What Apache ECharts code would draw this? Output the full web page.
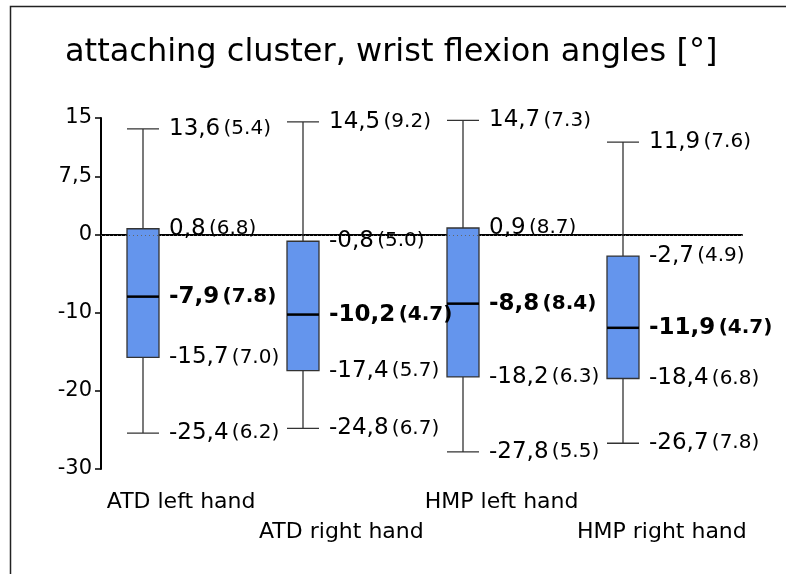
<!DOCTYPE html>
<html lang="en">

<head>
    <meta charset="UTF-8">
    <title>attaching cluster, wrist flexion angles</title>
    <script src="https://cdn.jsdelivr.net/npm/echarts/dist/echarts.min.js"></script>
    <style>
        body { margin: 0; background: #fff; }
    </style>
</head>

<body>
    <div id="chart" style="width: 786px; height: 574px;"></div>
    <script>
        // values (mean, with SD in brackets)
        const categories = ['ATD left hand', 'ATD right hand', 'HMP left hand', 'HMP right hand'];
        const whiskerMax = [13.6, 14.5, 14.7, 11.9];
        const boxTop = [0.8, -0.8, 0.9, -2.7];
        const median = [-7.9, -10.2, -8.8, -11.9];
        const boxBottom = [-15.7, -17.4, -18.2, -18.4];
        const whiskerMin = [-25.4, -24.8, -27.8, -26.7];

        const sdMax = [5.4, 9.2, 7.3, 7.6];
        const sdTop = [6.8, 5.0, 8.7, 4.9];
        const sdMedian = [7.8, 4.7, 8.4, 4.7];
        const sdBottom = [7.0, 5.7, 6.3, 6.8];
        const sdMin = [6.2, 6.7, 5.5, 7.8];

        const yTicks = [-30, -20, -10, 0, 7.5, 15];

        const font = 'DejaVu Sans';
        const comma = v => String(v).replace('.', ',');

        const boxData = categories.map((c, i) => [whiskerMin[i], boxBottom[i], median[i], boxTop[i], whiskerMax[i]]);

        // one label per statistic
        const labelData = [];
        categories.forEach((c, i) => {
            labelData.push({ value: [i, whiskerMax[i]], txt: whiskerMax[i].toFixed(1), sd: sdMax[i].toFixed(1) });
            labelData.push({ value: [i, boxTop[i]], txt: boxTop[i].toFixed(1), sd: sdTop[i].toFixed(1) });
            labelData.push({ value: [i, median[i]], txt: median[i].toFixed(1), sd: sdMedian[i].toFixed(1), bold: true });
            labelData.push({ value: [i, boxBottom[i]], txt: boxBottom[i].toFixed(1), sd: sdBottom[i].toFixed(1) });
            labelData.push({ value: [i, whiskerMin[i]], txt: whiskerMin[i].toFixed(1), sd: sdMin[i].toFixed(1) });
        });

        const chart = echarts.init(document.getElementById('chart'));

        const options = {
            animation: false,
            backgroundColor: '#fff',
            title: {
                text: 'attaching cluster, wrist flexion angles [°]',
                left: 60,
                top: 32,
                textStyle: { fontFamily: font, fontSize: 32, fontWeight: 'normal', color: '#000' }
            },
            graphic: [{
                type: 'polyline',
                silent: true,
                shape: { points: [[10.5, 600], [10.5, 6.5], [800, 6.5]] },
                style: { stroke: '#222', lineWidth: 1.5, fill: null }
            }],
            grid: [
                // visible axes
                { left: 101, right: 44, top: 118, bottom: 105 },
                // boxes (shifted left of the category centres, like the original)
                { left: 63, right: 83, top: 118, bottom: 105 }
            ],
            xAxis: [
                {
                    type: 'category',
                    gridIndex: 0,
                    data: categories,
                    axisLine: { lineStyle: { color: '#000', width: 2 } },
                    axisTick: { show: false },
                    axisLabel: {
                        interval: 0,
                        margin: 18,
                        color: '#000',
                        fontFamily: font,
                        fontSize: 22,
                        lineHeight: 30,
                        formatter: (v, i) => (i % 2 ? '\n' + v : v + '\n')
                    }
                },
                { type: 'category', gridIndex: 1, data: categories, show: false }
            ],
            yAxis: [
                {
                    type: 'value',
                    gridIndex: 0,
                    min: -30,
                    max: 15,
                    splitLine: { show: false },
                    axisLine: { show: true, lineStyle: { color: '#000', width: 2 } },
                    axisTick: { show: true, customValues: yTicks, length: 6, lineStyle: { color: '#000', width: 1.5 } },
                    axisLabel: {
                        customValues: yTicks,
                        margin: 9,
                        color: '#000',
                        fontFamily: font,
                        fontSize: 21,
                        formatter: v => comma(v)
                    }
                },
                { type: 'value', gridIndex: 1, min: -30, max: 15, show: false }
            ],
            series: [
                {
                    // zero reference line
                    type: 'line',
                    xAxisIndex: 0,
                    yAxisIndex: 0,
                    data: [],
                    z: 1,
                    markLine: {
                        silent: true,
                        symbol: 'none',
                        label: { show: false },
                        lineStyle: { color: '#666', width: 1, type: [1, 3] },
                        data: [{ yAxis: 0 }]
                    }
                },
                {
                    type: 'boxplot',
                    xAxisIndex: 1,
                    yAxisIndex: 1,
                    data: boxData,
                    boxWidth: [32, 32],
                    z: 3,
                    itemStyle: { color: '#6495ED', borderColor: '#333', borderWidth: 1.3 },
                    emphasis: { disabled: true }
                },
                {
                    // heavier median line
                    type: 'scatter',
                    xAxisIndex: 1,
                    yAxisIndex: 1,
                    data: categories.map((c, i) => [i, median[i]]),
                    symbol: 'rect',
                    symbolSize: [32, 2.5],
                    itemStyle: { color: '#000', opacity: 1 },
                    z: 4,
                    silent: true
                },
                {
                    type: 'scatter',
                    xAxisIndex: 1,
                    yAxisIndex: 1,
                    data: labelData,
                    symbolSize: 0,
                    silent: true,
                    z: 5,
                    itemStyle: { opacity: 1 },
                    label: {
                        show: true,
                        position: 'right',
                        distance: 26,
                        color: '#000',
                        formatter: p => {
                            const d = p.data;
                            return d.bold
                                ? '{vb|' + comma(d.txt) + '} {sb|(' + d.sd + ')}'
                                : '{v|' + comma(d.txt) + '} {s|(' + d.sd + ')}';
                        },
                        rich: {
                            v: { fontFamily: font, fontSize: 23, color: '#000' },
                            s: { fontFamily: font, fontSize: 20, color: '#000' },
                            vb: { fontFamily: font, fontSize: 23, fontWeight: 'bold', color: '#000' },
                            sb: { fontFamily: font, fontSize: 20, fontWeight: 'bold', color: '#000' }
                        }
                    }
                }
            ]
        };

        chart.setOption(options);
    </script>
</body>

</html>
